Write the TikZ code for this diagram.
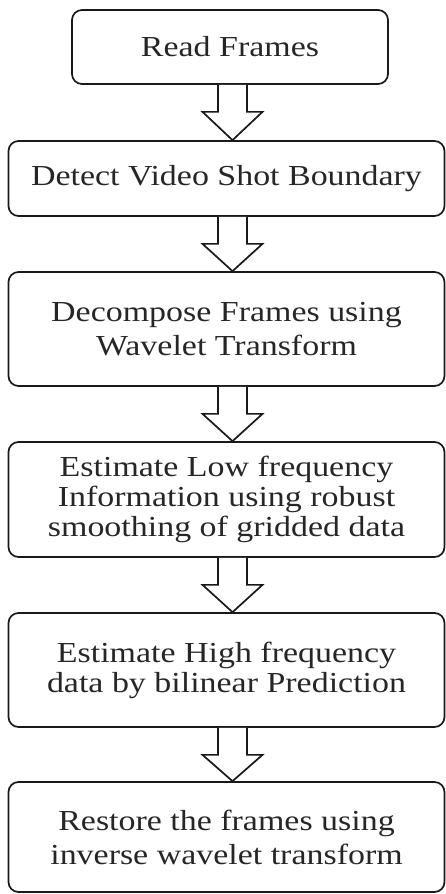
\documentclass[tikz,border=0pt]{standalone}
\usepackage{fontspec}
\setmainfont{Liberation Serif}[FakeStretch=1.17]
\usetikzlibrary{calc}
\tikzset{
  stepbox/.style={draw=black!90, line width=1.7pt, rounded corners=10pt, inner sep=0pt,
    align=center, text=black!85, font=\fontsize{29}{30}\selectfont},
  wideleading/.style={font=\fontsize{29}{34}\selectfont},
  barrow/.style={draw=black!90, line width=1.7pt, fill=white, line join=miter},
}
\newcommand\blockarrow[2]{%
  \draw[barrow] ($(#1.south -| ax)+(-14.5,0)$) -- ($(#1.south -| ax)+(-14.5,27)$)
    -- ($(#1.south -| ax)+(-30,27)$) -- (#2.north -| ax)
    -- ($(#1.south -| ax)+(30,27)$) -- ($(#1.south -| ax)+(14.5,27)$)
    -- ($(#1.south -| ax)+(14.5,0)$);}
\begin{document}
\begin{tikzpicture}[x=1pt,y=-1pt]
\useasboundingbox (0,0) rectangle (446,894);
\coordinate (ax) at (232.5,0);
\node[stepbox, minimum width=316pt, minimum height=74pt] (b1) at (230,47) {Read Frames};
\node[stepbox, minimum width=436pt, minimum height=75pt] (b2) at (226.5,178.5) {Detect Video Shot Boundary};
\node[stepbox, wideleading, minimum width=436pt, minimum height=114pt] (b3) at (226.5,329) {Decompose Frames using\\Wavelet Transform};
\node[stepbox, minimum width=436pt, minimum height=115pt] (b4) at (226.5,499.5) {Estimate Low frequency\\Information using robust\\smoothing of gridded data};
\node[stepbox, minimum width=436pt, minimum height=114pt] (b5) at (226.5,670) {Estimate High frequency\\data by bilinear Prediction};
\node[stepbox, wideleading, minimum width=436pt, minimum height=110pt] (b6) at (226.5,837) {Restore the frames using\\inverse wavelet transform};
\blockarrow{b1}{b2}
\blockarrow{b2}{b3}
\blockarrow{b3}{b4}
\blockarrow{b4}{b5}
\blockarrow{b5}{b6}
\end{tikzpicture}
\end{document}
